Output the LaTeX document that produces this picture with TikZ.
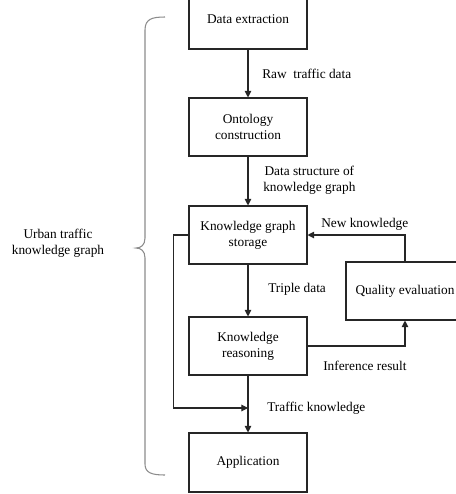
\documentclass[tikz,border=0pt]{standalone}
\usepackage{fontspec}
\setmainfont{Liberation Serif}
\usetikzlibrary{arrows.meta, positioning}
\definecolor{ukgInk}{HTML}{262626}
\definecolor{ukgBrace}{HTML}{8c8c8c}

\begin{document}
\begin{tikzpicture}[x=0.75pt, y=-0.75pt,
        blk/.style={draw=ukgInk, line width=0.8pt, fill=white, align=center,
                    font=\fontsize{10}{12}\selectfont, inner sep=2pt,
                    minimum width=88.5pt, minimum height=43.5pt},
        lbl/.style={anchor=west, align=center, inner sep=0pt,
                    font=\fontsize{10}{12}\selectfont},
        flow/.style={ukgInk, line width=0.8pt, -{Triangle[length=5pt,width=5pt]}},
        brc/.style={ukgBrace, line width=0.8pt}]
        \useasboundingbox (0,0) rectangle (456,494);
        \node[blk, minimum height=45pt] (ext) at (248,19)  {Data extraction};
        \node[blk] (onto)   at (248,127) {Ontology\\construction};
        \node[blk] (store)  at (248,235) {Knowledge graph\\storage};
        \node[blk] (reason) at (248,346) {Knowledge\\reasoning};
        \node[blk, minimum height=44.25pt] (app) at (248,462.5) {Application};
        \node[blk] (qe)     at (405,291) {Quality evaluation};
        \coordinate (tk) at (248,408);
        % main chain
        \draw[flow] (ext) -- (onto);
        \draw[flow] (onto) -- (store);
        \draw[flow] (store) -- (reason);
        \draw[flow] (reason) -- (app);
        % feedback through quality evaluation
        \draw[flow] (reason.east) -| (qe.south);
        \draw[flow] (qe.north) |- (store.east);
        \draw[flow] (store.west) -- ++(-15,0) |- (tk);
        \node[lbl] (l1) at (262,74)  {Raw~ traffic data};
        \node[lbl] (l2) at (263,180) {Data structure of\\knowledge graph};
        \node[lbl] (l3) at (268,289) {Triple data};
        \node[lbl] (l4) at (321,224) {New knowledge};
        \node[lbl] (l5) at (323,366) {Inference result};
        \node[lbl] (l6) at (267,408) {Traffic knowledge};
        % brace
        \draw[brc] (165,17) .. controls (152,17) and (145,19) .. (145,30)
              -- (145,238) .. controls (145,245) and (141,248) .. (136,248)
              .. controls (141,248) and (145,251) .. (145,258)
              -- (145,464) .. controls (145,473) and (152,475) .. (165,475);
        \node[lbl, anchor=center] (ukg) at (58,243) {Urban traffic\\knowledge graph};
      \end{tikzpicture}
\end{document}
